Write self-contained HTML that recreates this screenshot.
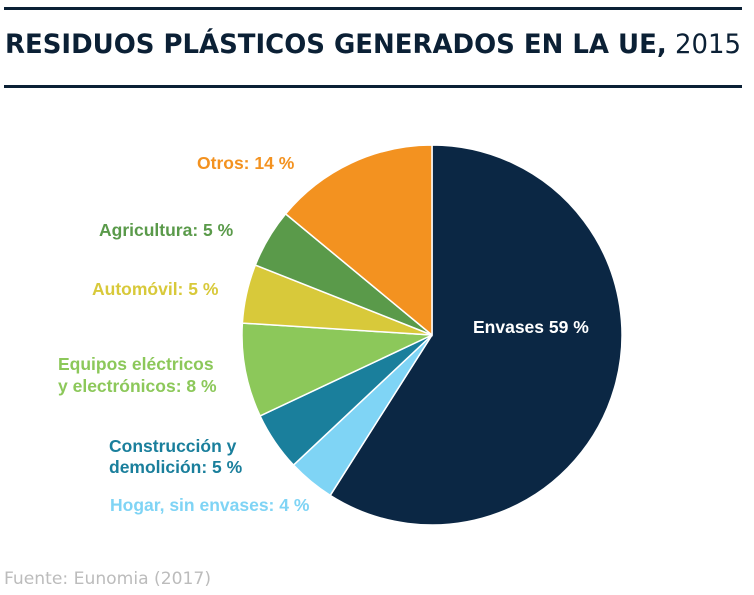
<!DOCTYPE html>
<html><head><meta charset="utf-8"><style>
body{margin:0;background:#fff;width:754px;height:590px;overflow:hidden;font-family:"Liberation Sans",sans-serif}
</style></head><body>
<svg width="754" height="590">
<line x1="4" y1="8.5" x2="742" y2="8.5" stroke="#0b2035" stroke-width="3"/>
<line x1="4" y1="86.5" x2="742" y2="86.5" stroke="#0b2035" stroke-width="3"/>
<text x="5" y="53" font-family="DejaVu Sans Condensed, DejaVu Sans, sans-serif" font-size="27" fill="#0b2035" textLength="736" lengthAdjust="spacingAndGlyphs"><tspan font-weight="bold">RESIDUOS  PLÁSTICOS  GENERADOS  EN LA UE,</tspan> 2015</text>
<g id="pie"></g>
<g id="labels" font-weight="bold" font-size="17.5"></g>
<text x="4" y="584" font-size="17" fill="#bcbcbc" font-family="DejaVu Sans, sans-serif" textLength="207" lengthAdjust="spacingAndGlyphs">Fuente: Eunomia (2017)</text>
</svg>
<script>
const categories=["Envases","Hogar, sin envases","Construcción y demolición","Equipos eléctricos y electrónicos","Automóvil","Agricultura","Otros"];
const values=[59,4,5,8,5,5,14];
const colors=["#0b2744","#7fd4f5","#1a7f9c","#8cc85a","#d8c93a","#5a9a4a","#f39220"];
const cx=432,cy=335,r=190;
const ns="http://www.w3.org/2000/svg";
const pie=document.getElementById('pie');
const total=values.reduce((a,b)=>a+b,0);
let a0=0;
function pt(a){return [cx+r*Math.sin(a),cy-r*Math.cos(a)];}
values.forEach((v,i)=>{
  const a1=a0+v/total*2*Math.PI;
  const p0=pt(a0),p1=pt(a1);
  const large=(a1-a0)>Math.PI?1:0;
  const p=document.createElementNS(ns,'path');
  p.setAttribute('d',`M${cx},${cy}L${p0[0]},${p0[1]}A${r},${r} 0 ${large} 1 ${p1[0]},${p1[1]}Z`);
  p.setAttribute('fill',colors[i]);
  p.setAttribute('stroke','#fff');
  p.setAttribute('stroke-width','1.5');
  
  
  pie.appendChild(p);
  a0=a1;
});
const labelLines=[
  [[473,333,"Envases "+values[0]+" %"]],
  [[110,511,"Hogar, sin envases: "+values[1]+" %"]],
  [[109,452,"Construcción y"],[109,473,"demolición: "+values[2]+" %"]],
  [[58,370,"Equipos eléctricos"],[58,392,"y electrónicos: "+values[3]+" %"]],
  [[92,295,"Automóvil: "+values[4]+" %"]],
  [[99,236,"Agricultura: "+values[5]+" %"]],
  [[197,169,"Otros: "+values[6]+" %"]]
];
const labelColors=["#ffffff","#7fd4f5","#1a7f9c","#8cc85a","#d8c93a","#5a9a4a","#f39220"];
const lg=document.getElementById('labels');
labelLines.forEach((lines,i)=>{
  lines.forEach(l=>{
    const t=document.createElementNS(ns,'text');
    t.setAttribute('x',l[0]);t.setAttribute('y',l[1]);
    t.setAttribute('fill',labelColors[i]);
    t.textContent=l[2];
    
    
    lg.appendChild(t);
  });
});
</script>
</body></html>
